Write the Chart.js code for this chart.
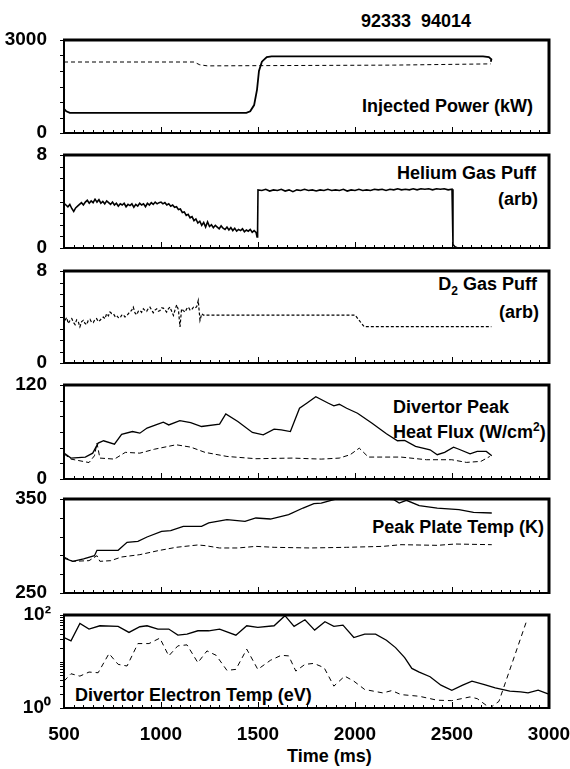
<!DOCTYPE html>
<html>
<head>
<meta charset="utf-8">
<script src="https://cdn.jsdelivr.net/npm/chart.js@4.4.1/dist/chart.umd.min.js"></script>
<style>
  body { margin: 0; background: #fff; }
  #page { position: relative; width: 570px; height: 769px; background: #fff; overflow: hidden; }
  canvas { position: absolute; left: 0; }
  .lbl { position: absolute; font: bold 18px/18px "Liberation Sans", Arial, sans-serif; color: #000; white-space: nowrap; }
  .lbl sub { font-size: 12px; vertical-align: -5px; line-height: 0; }
  .lbl sup { font-size: 12px; vertical-align: 7px; line-height: 0; }
</style>
</head>
<body>
<div id="page">
  <div class="lbl" style="left:361px;top:12px">92333&nbsp;&nbsp;94014</div>
  <div class="lbl" style="right:37px;top:97px">Injected Power (kW)</div>
  <div class="lbl" style="right:34px;top:164px">Helium Gas Puff</div>
  <div class="lbl" style="right:32px;top:190px">(arb)</div>
  <div class="lbl" style="right:33px;top:275px">D<sub>2</sub> Gas Puff</div>
  <div class="lbl" style="right:31px;top:303px">(arb)</div>
  <div class="lbl" style="left:393px;top:398px">Divertor Peak</div>
  <div class="lbl" style="left:393px;top:423px">Heat Flux (W/cm<sup>2</sup>)</div>
  <div class="lbl" style="right:26px;top:518px">Peak Plate Temp (K)</div>
  <div class="lbl" style="left:75px;top:686px">Divertor Electron Temp (eV)</div>
  <div class="lbl" style="left:287px;top:747px">Time (ms)</div>
</div>
<script>
// Injected power (kW)
const powerT = [500, 512, 530, 1440, 1460, 1480, 1495, 1505, 1520, 1545, 1570, 2660, 2690, 2703, 2700];
const powerKW = [780, 700, 650, 650, 700, 900, 1400, 2000, 2300, 2450, 2470, 2470, 2450, 2380, 2300];
const power2T = [500, 1170, 1200, 1240, 1600, 2200, 2700];
const power2KW = [2290, 2290, 2200, 2165, 2175, 2190, 2230];

// Helium gas puff (arb)
const heliumT = [500, 510, 520, 530, 540, 550, 560, 570, 580, 590,
  600, 610, 620, 630, 640, 650, 660, 670, 680, 690,
  700, 710, 720, 730, 740, 750, 760, 770, 780, 790,
  800, 810, 820, 830, 840, 850, 860, 870, 880, 890,
  900, 910, 920, 930, 940, 950, 960, 970, 980, 990,
  1000, 1010, 1020, 1030, 1040, 1050, 1060, 1070, 1080, 1090,
  1100, 1110, 1120, 1130, 1140, 1150, 1160, 1170, 1180, 1190,
  1200, 1210, 1220, 1230, 1240, 1250, 1260, 1270, 1280, 1290,
  1300, 1310, 1320, 1330, 1340, 1350, 1360, 1370, 1380, 1390,
  1400, 1410, 1420, 1430, 1440, 1450, 1460, 1470, 1480, 1490, 1495, 1498,
  1500, 1520, 1540, 1560, 1580, 1600, 1620, 1640, 1660, 1680,
  1700, 1720, 1740, 1760, 1780, 1800, 1820, 1840, 1860, 1880,
  1900, 1920, 1940, 1960, 1980, 2000, 2020, 2040, 2060, 2080,
  2100, 2120, 2140, 2160, 2180, 2200, 2220, 2240, 2260, 2280,
  2300, 2320, 2340, 2360, 2380, 2400, 2420, 2440, 2460, 2480,
  2500, 2505, 2515, 2530];
const heliumPuff = [3.85, 3.7, 3.55, 3.75, 3.4, 3.15, 3.45, 3.6, 3.75, 3.9,
  3.7, 3.95, 4.1, 3.85, 4.05, 3.9, 4.2, 3.95, 4.15, 3.85,
  4.0, 3.8, 4.05, 3.9, 3.75, 3.95, 3.7, 3.85, 3.6, 3.8,
  3.7, 3.85, 3.55, 3.75, 3.65, 3.8, 3.5, 3.75, 3.6, 3.85,
  3.7, 3.8, 3.55, 3.85, 3.7, 3.9, 3.75, 3.95, 3.8, 3.9,
  3.95, 3.8, 3.9, 3.7, 3.8, 3.6, 3.7, 3.5, 3.55, 3.3,
  3.35, 3.05, 3.1, 2.8, 2.9, 2.6, 2.7, 2.35, 2.5, 2.15,
  2.3, 1.95, 2.2, 1.8, 2.25, 1.85, 2.0, 1.75, 1.95, 1.8,
  1.65, 1.9, 1.7, 1.6, 1.8, 1.55, 1.75, 1.5, 1.7, 1.45,
  1.6, 1.5, 1.65, 1.4, 1.55, 1.45, 1.6, 1.35, 1.5, 1.35, 0.95, 1.7,
  5.0, 4.95, 5.05, 4.9, 5.0, 4.95, 5.05, 4.9, 5.0, 4.85,
  5.0, 4.95, 5.05, 4.95, 5.0, 4.9, 5.0, 4.95, 5.05, 4.95,
  5.0, 4.95, 5.05, 4.9, 5.0, 4.95, 5.05, 4.95, 5.0, 4.95,
  5.05, 5.0, 5.05, 4.95, 5.05, 5.0, 5.1, 5.0, 5.05, 5.0,
  5.1, 5.0, 5.1, 5.05, 5.1, 5.0, 5.1, 5.05, 5.1, 5.0,
  5.05, 0.3, 0.1, 0.0];

// D2 gas puff (arb)
const d2T = [505, 514, 522, 531, 540, 548, 557, 565, 574, 582, 591, 600, 608, 617, 625,
  634, 642, 651, 660, 668, 677, 686, 694, 703, 711, 720, 729, 737, 746, 754,
  763, 771, 780, 789, 797, 806, 814, 823, 832, 840, 849, 857, 866, 875, 883,
  892, 900, 909, 918, 926, 935, 943, 952, 960, 969, 978, 986, 995, 1003, 1012,
  1021, 1029, 1038, 1046, 1055, 1064, 1072, 1081, 1090, 1098, 1106, 1115, 1124, 1132, 1141,
  1150, 1158, 1167, 1175, 1184, 1192, 1201, 1210, 1218, 2000, 2047, 2703];
const d2Puff = [3.71, 3.95, 3.43, 3.7, 3.86, 3.55, 3.34, 3.75, 3.57, 3.14, 3.6, 3.71, 3.45, 3.34, 3.7,
  3.8, 3.55, 3.51, 3.8, 3.86, 3.6, 3.71, 3.9, 4.0, 3.85, 4.29, 4.1, 4.43, 4.3, 4.29,
  4.05, 4.14, 3.95, 3.91, 4.15, 4.2, 4.0, 4.09, 4.3, 4.43, 4.6, 4.86, 4.35, 4.2, 4.5,
  4.57, 4.4, 4.71, 4.55, 4.49, 4.75, 4.86, 4.6, 4.37, 4.6, 4.71, 4.5, 4.57, 4.8, 4.77,
  4.6, 4.43, 4.7, 4.86, 4.5, 4.14, 4.6, 5.06, 4.6, 3.14, 4.71, 4.55, 4.43, 4.7, 4.86,
  4.6, 4.63, 4.85, 4.77, 4.9, 5.43, 3.71, 4.29, 4.17, 4.17, 3.16, 3.16];

// Divertor peak heat flux (W/cm2)
const fluxT = [500, 536, 610, 648, 676, 704, 760, 797, 853, 891, 928, 984, 1012, 1040, 1097,
  1153, 1209, 1302, 1334, 1396, 1471, 1527, 1583, 1620, 1667, 1714, 1751, 1798, 1863, 1891,
  1919, 1957, 2013, 2088, 2162, 2219, 2256, 2312, 2387, 2424, 2462, 2508, 2536, 2593, 2630,
  2677, 2705];
const flux = [33, 26.7, 28, 33, 45.8, 48.8, 44.5, 57, 60.6, 58.5, 65, 70, 72.5, 69, 74.6,
  72, 67, 70, 83, 73.4, 59.4, 56.4, 63.6, 62.8, 60.6, 90.3, 96.7, 105, 96.7, 93.3,
  95.4, 90.3, 84, 71.2, 57.7, 48.8, 49.2, 41.6, 37.3, 31, 34, 40.7, 38, 32.2, 35.2,
  35.2, 29.7];
const flux2T = [500, 536, 629, 657, 670, 685, 760, 816, 891, 966, 1078, 1153, 1227, 1340,
  1489, 1676, 1826, 1919, 1975, 2022, 2069, 2237, 2368, 2499, 2574, 2649, 2695];
const flux2 = [32, 25.4, 21, 29.7, 45.8, 26.7, 25.4, 34, 33, 38, 43.7, 40.7, 34, 28.8,
  25.9, 26.7, 25.4, 26.7, 31, 39.4, 28, 28, 24.6, 24.6, 21.2, 22.5, 28.8];

// Peak plate temp (K)
const plateT = [500, 545, 601, 657, 670, 685, 779, 825, 881, 928, 1003, 1050, 1115, 1209, 1246,
  1340, 1433, 1489, 1564, 1658, 1732, 1788, 1826, 1901, 2050, 2200, 2228, 2265, 2331, 2424,
  2536, 2611, 2705];
const plate = [287.2, 283.7, 286.2, 289.7, 295.4, 295.4, 295.4, 303.9, 305, 309.6, 315.6, 316.3, 320.9, 320.9, 324.5,
  328, 326.2, 329.8, 328.7, 333.3, 340.4, 345, 345.7, 350, 351, 349.3, 345.7, 348.6, 342.9, 340.4,
  338.7, 335.8, 335.1];
const plate2T = [500, 545, 629, 670, 685, 741, 797, 891, 984, 1078, 1190, 1227, 1302, 1396,
  1489, 1583, 1770, 1957, 2144, 2237, 2424, 2517, 2705];
const plate2 = [288.3, 283.7, 284.4, 289.7, 283.7, 284.4, 288.3, 290.8, 295, 298.6, 301.1, 300.4, 297.9, 297.9,
  299.6, 298.6, 297.9, 298.6, 299.6, 301.4, 300.7, 302.1, 301.4];

// Divertor electron temp (eV)
const teT = [500, 536, 582, 629, 685, 779, 835, 891, 928, 984, 1040, 1087, 1134, 1190, 1246,
  1302, 1386, 1442, 1499, 1583, 1639, 1686, 1742, 1792, 1845, 1891, 1938, 1994, 2050, 2106,
  2162, 2209, 2256, 2293, 2331, 2387, 2443, 2499, 2555, 2603, 2667, 2723, 2798, 2854, 2892,
  2944, 2995];
const te = [32.8, 27.8, 66, 49.8, 58.7, 56.8, 42.2, 55.9, 58.7, 49.8, 49.8, 36.9, 38.8, 45.8, 45.8,
  49.8, 36.9, 58.7, 54, 58.7, 96.8, 56.8, 79, 47.3, 71.7, 56.8, 60.7, 32.8, 38.8, 38.8,
  28.7, 19.9, 12.1, 7.1, 5.9, 4.7, 3.1, 2.41, 3.1, 3.78, 3.2, 2.71, 2.3, 2.22, 2.11,
  2.41, 2.01];
const te2T = [500, 536, 582, 629, 676, 732, 779, 825, 881, 938, 994, 1040, 1087, 1134, 1190,
  1237, 1284, 1340, 1386, 1442, 1499, 1564, 1620, 1658, 1695, 1742, 1788, 1841, 1891, 1947,
  1994, 2050, 2144, 2190, 2237, 2331, 2424, 2499, 2593, 2630, 2695, 2742, 2882];
const te2 = [3.78, 5.45, 4.85, 5.93, 5.73, 14.8, 8.68, 8.0, 24.3, 24.3, 31.8, 13.2, 21.7, 22.8, 9.44,
  16.9, 13.6, 6.44, 6.77, 18.4, 6.77, 10.6, 13.6, 13.2, 6.22, 8.68, 9.1, 7.35, 2.95, 4.85,
  3.78, 2.5, 2.11, 2.37, 1.94, 1.79, 1.47, 1.44, 1.73, 1.59, 1.0, 1.39, 69.4];

const tickFont = { family: '"Liberation Sans", Arial, sans-serif', size: 19, weight: 'bold' };
const pad = 14;

// box with thick edges, inward time ticks, outward value ticks
const framePlugin = {
  id: 'frame',
  afterDraw(chart, args, opts) {
    const ctx = chart.ctx;
    const a = chart.chartArea;
    const xs = chart.scales.x, ys = chart.scales.y;
    ctx.save();
    ctx.strokeStyle = '#000';
    ctx.lineWidth = 1;
    for (let t = 500; t <= 3000; t += 50) {
      const px = Math.round(xs.getPixelForValue(t)) + 0.5;
      const len = t % 500 === 0 ? 6 : 3;
      ctx.beginPath();
      ctx.moveTo(px, a.bottom);
      ctx.lineTo(px, a.bottom - len);
      ctx.stroke();
    }
    opts.yTicks.forEach(v => {
      const py = Math.round(ys.getPixelForValue(v)) + 0.5;
      ctx.beginPath();
      ctx.moveTo(a.left, py);
      ctx.lineTo(a.left - 4, py);
      ctx.stroke();
    });
    ctx.lineWidth = 2;
    ctx.beginPath();
    ctx.moveTo(a.left, a.top);
    ctx.lineTo(a.left, a.bottom);
    ctx.lineTo(a.right, a.bottom);
    ctx.stroke();
    ctx.lineWidth = 3;
    ctx.beginPath();
    ctx.moveTo(a.left - 1, a.top);
    ctx.lineTo(a.right, a.top);
    ctx.lineTo(a.right, a.bottom + 1);
    ctx.stroke();
    ctx.restore();
  }
};

function line(t, v, dash, width) {
  return {
    data: t.map((x, i) => ({ x: x, y: v[i] })),
    borderColor: '#000',
    borderWidth: width || 1.2,
    borderDash: dash || [],
    pointRadius: 0,
    fill: false,
    tension: 0
  };
}

function makePanel(top, height, yOpts, datasets, yTicks, isBottom) {
  isBottom = !!isBottom;
  const c = document.createElement('canvas');
  const h = isBottom ? 769 - (top - pad) : height + 2 * pad;
  c.width = 570;
  c.height = h;
  c.style.top = (top - pad) + 'px';
  c.style.width = '570px';
  c.style.height = h + 'px';
  document.getElementById('page').appendChild(c);

  const yScale = {
    type: yOpts.type || 'linear',
    min: yOpts.min,
    max: yOpts.max,
    grid: { display: false, drawTicks: false },
    border: { display: false },
    ticks: { padding: yOpts.padding || 17, font: tickFont, color: '#000', callback: yOpts.label || (v => String(v)) },
    afterBuildTicks: s => { s.ticks = [{ value: yOpts.min }, { value: yOpts.max }]; },
    afterFit: s => { s.width = 64; s.paddingTop = 0; s.paddingBottom = 0; }
  };

  new Chart(c, {
    type: 'line',
    data: { datasets: datasets },
    options: {
      responsive: false,
      animation: false,
      devicePixelRatio: 1,
      layout: { padding: { left: 0, right: 21, top: pad, bottom: isBottom ? 0 : pad } },
      plugins: { legend: { display: false }, tooltip: { enabled: false }, frame: { yTicks: yTicks } },
      scales: {
        x: {
          type: 'linear', min: 500, max: 3000, display: isBottom,
          grid: { display: false, drawTicks: false },
          border: { display: false },
          ticks: { stepSize: 500, padding: 15, font: tickFont, color: '#000', maxRotation: 0,
            autoSkip: false, callback: v => String(v) },
          afterFit: s => { s.height = isBottom ? 61 : 0; s.paddingLeft = 0; s.paddingRight = 0; }
        },
        y: yScale
      }
    },
    plugins: [framePlugin]
  });
}

function steps(from, to, step) {
  const out = [];
  for (let v = from; v <= to + 1e-9; v += step) out.push(v);
  return out;
}
const logTicks = [1, 2, 3, 4, 5, 6, 7, 8, 9, 10, 20, 30, 40, 50, 60, 70, 80, 90, 100];

makePanel(40, 93, { min: 0, max: 3000 },
  [line(powerT, powerKW, null, 1.8), line(power2T, power2KW, [4, 3], 1)], steps(0, 3000, 500));
makePanel(155, 93, { min: 0, max: 8 },
  [line(heliumT, heliumPuff, null, 1.6)], steps(0, 8, 1));
makePanel(271, 92, { min: 0, max: 8 },
  [line(d2T, d2Puff, [3, 2], 1.2)], steps(0, 8, 1));
makePanel(385, 94, { min: 0, max: 120 },
  [line(fluxT, flux, null, 1.3), line(flux2T, flux2, [5, 3], 1)], steps(0, 120, 20));
makePanel(499, 94, { min: 250, max: 350 },
  [line(plateT, plate, null, 1.3), line(plate2T, plate2, [5, 3], 1)], steps(250, 350, 20));
makePanel(615, 93, { type: 'logarithmic', min: 1, max: 100, padding: 13,
    label: v => (v === 100 ? '10\u00B2' : '10\u2070') },
  [line(teT, te, null, 1.3), line(te2T, te2, [5, 4], 1)], logTicks, true);
</script>
</body>
</html>
